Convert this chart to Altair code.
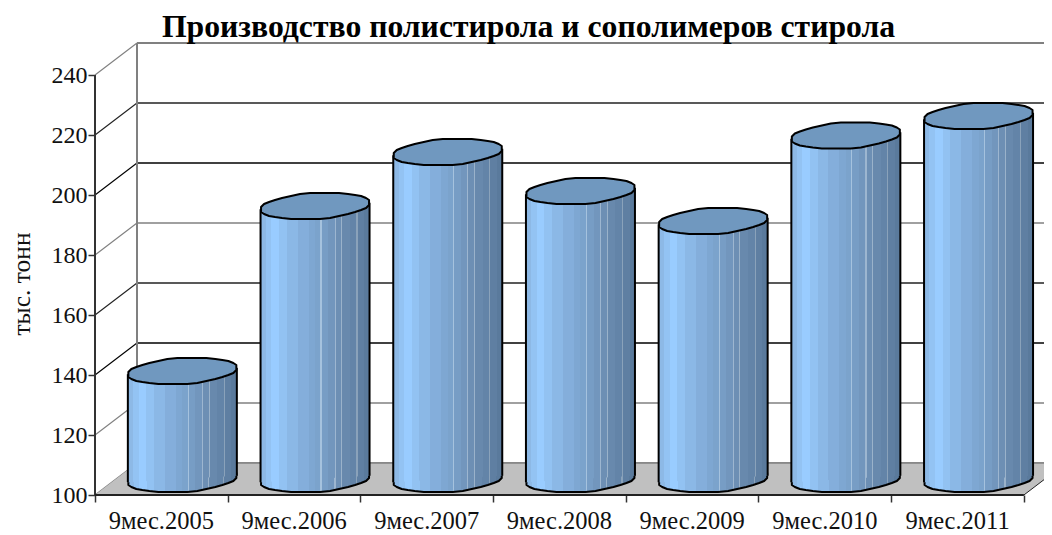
import math
import altair as alt
import pandas as pd

categories = ["9мес.2005", "9мес.2006", "9мес.2007", "9мес.2008", "9мес.2009", "9мес.2010", "9мес.2011"]
values = [136, 191, 209, 196, 186, 214.5, 221]
grid_values = [100, 120, 140, 160, 180, 200, 220, 240]
grid_colors = ["#808080", "#808080", "#000000", "#222222", "#808080", "#000000", "#222222", "#808080"]

TITLE = "Производство полистирола и сополимеров стирола"
YTITLE = "тыс. тонн"
FONT = "Liberation Serif"

# projection of the 3D box, in scale units
W, H = 949, 452
PX_X = 132.7          # px per category
PX_Y = 3.0            # px per value unit
XMAX = W / PX_X
YMAX = 100 + H / PX_Y
DX = 42 / PX_X
DY = 32 / PX_Y
HALF = 54.5 / PX_X
TILT = 3.2 / PX_Y

xs = alt.Scale(domain=[0, XMAX], nice=False, zero=False)
ys = alt.Scale(domain=[100, YMAX], nice=False, zero=False)


def X(f, **k):
    return alt.X(f, type="quantitative", scale=xs, title=None, **k)


def Y(f, **k):
    return alt.Y(f, type="quantitative", scale=ys, **k)


# silhouette of a cylinder cap, px offsets around the centre (size=4 -> scale 1)
def cap_path(rx=54.5, ry=13.0, tilt=3.2, n=34):
    pts = []
    for i in range(n):
        t = 2 * math.pi * i / n
        pts.append((round(rx * math.cos(t)), round(ry * math.sin(t) - tilt * math.cos(t))))
    return "M" + " L".join(f"{a},{b}" for a, b in pts) + " Z"


CAP = cap_path()

bands = [
    (0.00, "#8db9e6"), (0.05, "#93c3f3"), (0.10, "#99ccff"), (0.17, "#92c2f2"), (0.24, "#8bb8e6"),
    (0.34, "#84aedb"), (0.44, "#7ea7d2"), (0.50, "#7ba3cc"), (0.55, "#a5c2de"), (0.56, "#779dc5"),
    (0.62, "#7296bd"), (0.68, "#9db6d0"), (0.69, "#6d8fb4"), (0.74, "#9ab2ca"), (0.75, "#6889ad"),
    (0.82, "#6384a8"), (0.88, "#8aa2ba"), (0.89, "#5f7fa2"), (0.95, "#5a7a9c"), (1.00, "#557596"),
]
stops = []
for i, (o, c) in enumerate(bands):
    stops.append(alt.GradientStop(offset=o, color=c))
    nxt = bands[i + 1][0] if i + 1 < len(bands) else 1.0
    stops.append(alt.GradientStop(offset=nxt, color=c))
grad = alt.Gradient(gradient="linear", x1=0, x2=1, y1=0, y2=0, stops=stops)

# ---- tables built from the arrays above
grid = pd.DataFrame({"v": grid_values, "c": grid_colors})
grid["yb"] = grid["v"] + DY
grid["xb"] = DX
grid["x0"] = 0.0
grid["xm"] = XMAX

centres = [i + 0.5 + DX / 2 for i in range(len(values))]
cyl = pd.DataFrame({"cat": categories, "v": values, "cx": centres})
cyl["top"] = cyl["v"] + DY / 2
cyl["base"] = 100 + DY / 2
cyl["xl"] = cyl["cx"] - HALF
cyl["xr"] = cyl["cx"] + HALF
cyl["ltop"] = cyl["top"] - TILT
cyl["lbase"] = cyl["base"] - TILT
cyl["rtop"] = cyl["top"] + TILT
cyl["rbase"] = cyl["base"] + TILT

body = pd.concat([
    pd.DataFrame({"cat": categories, "x": cyl["xl"], "yt": cyl["ltop"], "yb": cyl["lbase"]}),
    pd.DataFrame({"cat": categories, "x": cyl["xr"], "yt": cyl["rtop"], "yb": cyl["rbase"]}),
])
edge = pd.DataFrame({
    "x": list(cyl["xl"]) + list(cyl["xr"]),
    "y": list(cyl["ltop"]) + list(cyl["rtop"]),
    "y2": list(cyl["lbase"]) + list(cyl["rbase"]),
})

floor = pd.DataFrame({
    "x": [0, DX, 7, XMAX],
    "y": [100, 100 + DY, 100 + DY, 100 + DY],
    "y2": [100, 100, 100, 100 + (XMAX - 7) / DX * DY],
})

labels = pd.DataFrame({"cat": categories, "x": [i + 0.5 for i in range(len(categories))], "y": [100] * len(categories)})

# ---- layers
axes = alt.Chart(grid).mark_rule(opacity=0).encode(
    x=X("x0", axis=alt.Axis(values=list(range(8)), labels=False, domain=False, grid=False, tickSize=7,
                            tickColor="#333333", tickWidth=1.5)),
    y=Y("v", axis=alt.Axis(title=YTITLE, values=grid_values, domain=False, grid=False, tickSize=7, tickColor="#333333",
                           tickWidth=1.5, labelFont=FONT, labelFontSize=24, labelColor="#111111",
                           labelPadding=1, titleFont=FONT, titleFontSize=25.5,
                           titleFontWeight="normal", titleColor="#111111", titleX=-61, titleY=240.5)),
)
backgrid = alt.Chart(grid).mark_rule(strokeWidth=1.3).encode(
    x=X("xb"), x2="xm", y=Y("yb"), color=alt.Color("c:N", scale=None))
sidegrid = alt.Chart(grid).mark_rule(strokeWidth=1.2).encode(
    x=X("x0"), x2="xb", y=Y("v"), y2="yb", color=alt.Color("c:N", scale=None))
backtop = alt.Chart(grid[grid["v"] == 240]).mark_rule(strokeWidth=2, color="#808080").encode(
    x=X("xb"), x2="xm", y=Y("yb"))
backleft = alt.Chart(pd.DataFrame({"x": [DX], "y": [100 + DY], "y2": [240 + DY]})).mark_rule(
    strokeWidth=2, color="#808080").encode(x=X("x"), y=Y("y"), y2="y2")
floor_area = alt.Chart(floor).mark_area(color="#c0c0c0", opacity=1, line=False).encode(x=X("x"), y=Y("y"), y2="y2")
floor_right = alt.Chart(pd.DataFrame({"x": [7], "x2": [XMAX], "y": [100], "y2": [100 + (XMAX - 7) / DX * DY]})).mark_rule(
    strokeWidth=1, color="#222222").encode(x=X("x"), x2="x2", y=Y("y"), y2="y2")
back_floor = alt.Chart(pd.DataFrame({"x": [DX], "x2": [XMAX], "y": [100 + DY]})).mark_rule(
    strokeWidth=1.5, color="#808080").encode(x=X("x"), x2="x2", y=Y("y"))
front_y = alt.Chart(pd.DataFrame({"x": [0], "y": [100], "y2": [240]})).mark_rule(
    strokeWidth=2, color="#333333").encode(x=X("x"), y=Y("y"), y2="y2")
front_x = alt.Chart(pd.DataFrame({"x": [0], "x2": [7], "y": [100]})).mark_rule(
    strokeWidth=2, color="#222222").encode(x=X("x"), x2="x2", y=Y("y"))

base_cap = alt.Chart(cyl).mark_point(shape=CAP, size=4, filled=True, fill=grad, stroke="#000000",
                                     strokeWidth=2, opacity=1, strokeJoin="round").encode(x=X("cx"), y=Y("base"))
body_area = alt.Chart(body).mark_area(fill=grad, opacity=1, line=False, interpolate="linear").encode(
    x=X("x"), y=Y("yt"), y2="yb", detail="cat:N")
edges = alt.Chart(edge).mark_rule(strokeWidth=2, color="#000000").encode(x=X("x"), y=Y("y"), y2="y2")
top_cap = alt.Chart(cyl).mark_point(shape=CAP, size=4, filled=True, fill="#7098bf", stroke="#000000",
                                    strokeWidth=2, opacity=1, strokeJoin="round").encode(x=X("cx"), y=Y("top"))
xlabels = alt.Chart(labels).mark_text(font=FONT, fontSize=24.5, color="#111111", dy=27).encode(
    x=X("x"), y=Y("y"), text="cat:N")

chart = alt.layer(
    axes, backgrid, sidegrid, backtop, backleft, floor_area, back_floor, floor_right, front_y, front_x,
    base_cap, body_area, edges, top_cap, xlabels,
).properties(
    width=W, height=H,
    padding={"left": 87, "top": 35, "right": 0, "bottom": 40},
    autosize=alt.AutoSizeParams(type="none"),
    background="white",
    title=alt.TitleParams(TITLE, font=FONT, fontSize=31.7, fontWeight="bold", color="#000000",
                          anchor="middle", dx=-41, offset=-2),
).configure_view(stroke=None)

chart.save("out.html", embed_options={"renderer": "svg", "actions": False})
